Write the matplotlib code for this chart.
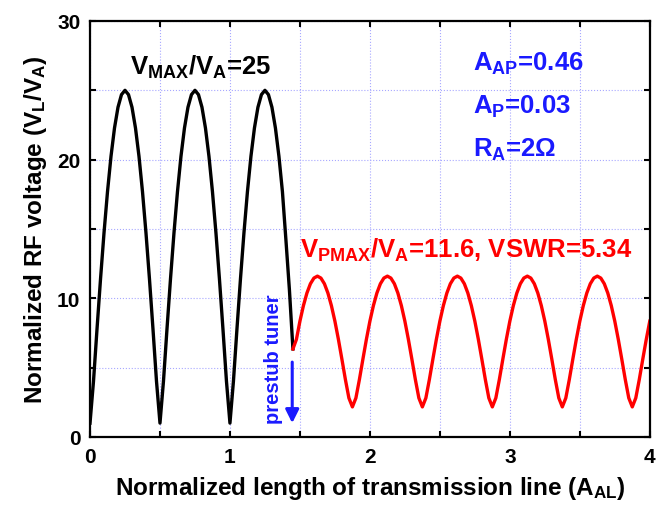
import matplotlib
matplotlib.use("Agg")
import matplotlib.pyplot as plt
import numpy as np

# Datos leidos de la figura
# curva negra (sin prestub), x de 0 a 1.45 cada 0.025
v_sin_tuner = [1.0, 4.03, 7.78, 11.38, 14.71, 17.69, 20.24, 22.28, 23.78, 24.69,
               25.0, 24.69, 23.78, 22.28, 20.24, 17.69, 14.71, 11.38, 7.78, 4.03,
               1.0, 4.03, 7.78, 11.38, 14.71, 17.69, 20.24, 22.28, 23.78, 24.69,
               25.0, 24.69, 23.78, 22.28, 20.24, 17.69, 14.71, 11.38, 7.78, 4.03,
               1.0, 4.03, 7.78, 11.38, 14.71, 17.69, 20.24, 22.28, 23.78, 24.69,
               25.0, 24.69, 23.78, 22.28, 20.24, 17.69, 14.2, 10.6, 6.35]
# curva roja (con prestub), x de 1.45 a 4.0 cada 0.025
v_con_tuner = [6.35, 7.04, 8.35, 9.47, 10.38, 11.05, 11.46,
               11.60, 11.46, 11.05, 10.38, 9.47, 8.35, 7.04, 5.61, 4.14, 2.81,
               2.17, 2.81, 4.14, 5.61, 7.04, 8.35, 9.47, 10.38, 11.05, 11.46,
               11.60, 11.46, 11.05, 10.38, 9.47, 8.35, 7.04, 5.61, 4.14, 2.81,
               2.17, 2.81, 4.14, 5.61, 7.04, 8.35, 9.47, 10.38, 11.05, 11.46,
               11.60, 11.46, 11.05, 10.38, 9.47, 8.35, 7.04, 5.61, 4.14, 2.81,
               2.17, 2.81, 4.14, 5.61, 7.04, 8.35, 9.47, 10.38, 11.05, 11.46,
               11.60, 11.46, 11.05, 10.38, 9.47, 8.35, 7.04, 5.61, 4.14, 2.81,
               2.17, 2.81, 4.14, 5.61, 7.04, 8.35, 9.47, 10.38, 11.05, 11.46,
               11.60, 11.46, 11.05, 10.38, 9.47, 8.35, 7.04, 5.61, 4.14, 2.81,
               2.17, 2.81, 4.14, 5.61, 7.04, 8.35]
x_sin_tuner = np.linspace(0, 1.45, len(v_sin_tuner))
x_con_tuner = np.linspace(1.45, 4.0, len(v_con_tuner))

xticks = [0, 0.5, 1, 1.5, 2, 2.5, 3, 3.5, 4]
xtick_labels = ['0', '', '1', '', '2', '', '3', '', '4']
yticks = [0, 5, 10, 15, 20, 25, 30]
ytick_labels = ['0', '', '10', '', '20', '', '30']

plt.rcParams['font.family'] = ['Liberation Sans', 'DejaVu Sans']
plt.rcParams['font.weight'] = 'bold'
plt.rcParams['mathtext.fontset'] = 'custom'
plt.rcParams['mathtext.rm'] = 'Liberation Sans:bold'
plt.rcParams['mathtext.it'] = 'Liberation Sans:bold'
plt.rcParams['mathtext.bf'] = 'Liberation Sans:bold'

AZUL = '#1a1aff'

fig = plt.figure(figsize=(6.57, 5.1), dpi=100)
ax = fig.add_axes([0.137, 0.1412, 0.852, 0.8157])

# Grilla punteada celeste
ax.grid(True, color='#a8a8ff', linestyle=':', linewidth=0.8)
ax.set_axisbelow(True)

ax.plot(x_sin_tuner, v_sin_tuner, color='black', lw=2.4, solid_joinstyle='round')
ax.plot(x_con_tuner, v_con_tuner, color='red', lw=2.4, solid_joinstyle='round')

ax.set_xlim(0, 4)
ax.set_ylim(0, 30)
ax.set_xticks(xticks)
ax.set_xticklabels(xtick_labels)
ax.set_yticks(yticks)
ax.set_yticklabels(ytick_labels)
ax.tick_params(direction='in', length=4, width=1.5, labelsize=15, pad=7,
               top=True, right=True)
for s in ax.spines.values():
    s.set_linewidth(1.6)

ax.set_xlabel('Normalized length of transmission line (A$_{AL}$)',
              fontsize=17.5, fontweight='bold', labelpad=6)
ax.set_ylabel('Normalized RF voltage (V$_L$/V$_A$)',
              fontsize=17.5, fontweight='bold', labelpad=6)

# Textos
ax.text(0.286, 26.2, 'V$_{MAX}$/V$_A$=25', fontsize=18.5, color='black',
        fontweight='bold', va='baseline')
ax.text(2.736, 26.5, 'A$_{AP}$=0.46', fontsize=18.5, color=AZUL,
        fontweight='bold', va='baseline')
ax.text(2.736, 23.4, 'A$_P$=0.03', fontsize=18.5, color=AZUL,
        fontweight='bold', va='baseline')
ax.text(2.736, 20.3, 'R$_A$=2Ω', fontsize=18.5, color=AZUL,
        fontweight='bold', va='baseline')
ax.text(1.5, 13.0, 'V$_{PMAX}$/V$_A$=11.6, VSWR=5.34', fontsize=18.5, color='red',
        fontweight='bold', va='baseline')

# Flecha del prestub tuner
ax.annotate('', xy=(1.445, 0.8), xytext=(1.445, 5.6),
            arrowprops=dict(arrowstyle='-|>', color=AZUL, lw=2.2,
                            mutation_scale=20))
ax.text(1.31, 5.7, 'prestub tuner', rotation=90, fontsize=14.5, color=AZUL,
        fontweight='bold', ha='center', va='center')

fig.savefig('out.png', dpi=100)
